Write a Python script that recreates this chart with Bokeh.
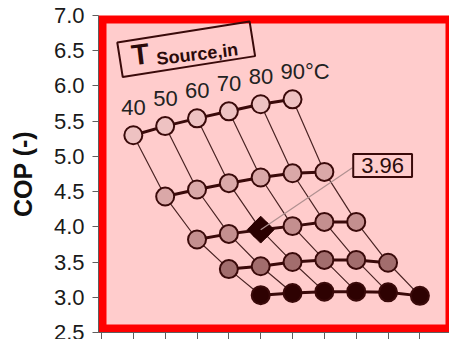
from bokeh.plotting import figure
from bokeh.models import FixedTicker, NumeralTickFormatter, Label, Range1d
from bokeh.embed import file_html
from bokeh.resources import INLINE
from bokeh.core.properties import value

# ---------------- data ----------------
source_temps = [40, 50, 60, 70, 80, 90]          # T_Source,in (°C)
cop_row1 = [5.30, 5.43, 5.54, 5.64, 5.74, 5.81]
cop_row2 = [4.43, 4.53, 4.62, 4.70, 4.76, 4.78]
cop_row3 = [3.82, 3.90, 3.96, 4.01, 4.07, 4.07]
cop_row4 = [3.40, 3.44, 3.50, 3.53, 3.53, 3.49]
cop_row5 = [3.03, 3.06, 3.08, 3.08, 3.07, 3.02]
y_ticks = [2.5, 3.0, 3.5, 4.0, 4.5, 5.0, 5.5, 6.0, 6.5, 7.0]
x_ticks = list(range(0, 12))
highlight_row = 2     # index into rows
highlight_col = 2     # index into source_temps
highlight_value = 3.96

rows = [cop_row1, cop_row2, cop_row3, cop_row4, cop_row5]
row_fills = ["#EEC2C2", "#DAA8A8", "#C48F8F", "#A26D6D", "#2E0202"]

# ---------------- layout ----------------
W, H = 449, 339
BL, BR, BT, BB = 98, 0, 15, 7
x0, x1 = -0.094, 10.93
y0, y1 = 2.5, 7.0
frame_w = W - BL - BR
frame_h = H - BT - BB

FONT = "Liberation Sans"
DARK = "#3A0A0A"

p = figure(width=W, height=H, output_backend="svg", toolbar_location=None,
           x_range=Range1d(x0, x1), y_range=Range1d(y0, y1),
           min_border_left=BL, min_border_right=BR,
           min_border_top=BT, min_border_bottom=BB)
p.outline_line_color = None
p.border_fill_color = "white"
p.background_fill_color = "#FF0000"
p.xgrid.visible = False
p.ygrid.visible = False

# pink inner area (red border left around; right side is cut by the edge)
px_x = (x1 - x0) / frame_w
px_y = (y1 - y0) / frame_h
p.quad(left=[x0 + 8 * px_x], right=[x1 - 4 * px_x],
       bottom=[y0 + 8 * px_y], top=[y1 - 8 * px_y],
       fill_color="#FFCCCC", line_color=None, level="underlay")

# axes
p.yaxis.ticker = FixedTicker(ticks=y_ticks)
p.yaxis.formatter = NumeralTickFormatter(format="0.0")
p.yaxis.major_label_text_font = FONT
p.yaxis.major_label_text_font_size = "22px"
p.yaxis.major_label_text_color = "#1a1a1a"
p.yaxis.major_label_standoff = 8
p.yaxis.major_tick_out = 6
p.yaxis.major_tick_in = 0
p.yaxis.minor_tick_line_color = None
p.yaxis.major_tick_line_color = "#5f5f5f"
p.yaxis.axis_line_color = "#5f5f5f"
p.yaxis.axis_label = "COP (-)"
p.yaxis.axis_label_text_font = FONT
p.yaxis.axis_label_text_font_style = "bold"
p.yaxis.axis_label_text_font_size = "25px"
p.yaxis.axis_label_text_color = "#111111"
p.yaxis.axis_label_standoff = 14

# x axis: ticks only (its labels lie below the visible picture)
p.xaxis.ticker = FixedTicker(ticks=[], minor_ticks=x_ticks)
p.xaxis.major_tick_line_color = None
p.xaxis.minor_tick_out = 7
p.xaxis.minor_tick_in = 0
p.xaxis.minor_tick_line_color = "#5f5f5f"
p.xaxis.axis_line_color = "#5f5f5f"

# positions: carpet offset (row index + column index)
def xpos(i, j):
    return i + j + 1

# constant-source (thin) lines
for j in range(len(source_temps)):
    xs = [xpos(i, j) for i in range(len(rows))]
    ys = [rows[i][j] for i in range(len(rows))]
    p.line(xs, ys, line_color="#4A2424", line_width=1.2)

# row (thick) lines + markers
for i, r in enumerate(rows):
    xs = [xpos(i, j) for j in range(len(r))]
    p.line(xs, r, line_color=DARK, line_width=3)
for i, r in enumerate(rows):
    xs = [xpos(i, j) for j in range(len(r))]
    p.scatter(xs, r, marker="circle", size=18, fill_color=row_fills[i],
              line_color=DARK, line_width=2)

# highlighted point (diamond)
hx = xpos(highlight_row, highlight_col)
hy = highlight_value
p.scatter([hx], [hy], marker="square", angle=0.785398, size=19,
          fill_color="#2A0000", line_color="#2A0000", line_width=1)

# callout line + value box
p.line([hx, hx + 2.88], [hy, hy + 0.88], line_color="#B09090", line_width=1.2)
p.add_layout(Label(x=hx + 3.83, y=hy + 0.91, text=f"{highlight_value:.2f}",
                   text_font=FONT, text_font_size="22px", text_color="#2B0B0B",
                   text_align="center", text_baseline="middle",
                   border_line_color=DARK, border_line_width=2,
                   padding=(8, 4)))

# source temperature labels above first row
temp_labels = [str(t) for t in source_temps[:-1]] + [f"{source_temps[-1]}°C"]
p.text(x=[xpos(0, j) for j in range(len(source_temps))], y=cop_row1,
       text=temp_labels, text_font=value(FONT), text_font_size="22px",
       text_color="#222222", text_align="left", text_baseline="middle",
       x_offset=-12, y_offset=-28)

# T_Source,in tag
p.rect(x=[2.66], y=[6.52], width=134, height=35, width_units="screen",
       height_units="screen", angle=0.157, fill_alpha=0,
       line_color=DARK, line_width=2)
p.add_layout(Label(x=1.22, y=6.45, text="T", text_font=FONT,
                   text_font_style="bold", text_font_size="29px",
                   text_color="#2A0A0A", text_align="center",
                   text_baseline="middle", angle=0.12))
p.add_layout(Label(x=3.01, y=6.45, text="Source,in", text_font=FONT,
                   text_font_style="bold", text_font_size="18px",
                   text_color="#2A0A0A", text_align="center",
                   text_baseline="middle", angle=0.12))

open("out.html", "w").write(file_html(p, INLINE))
